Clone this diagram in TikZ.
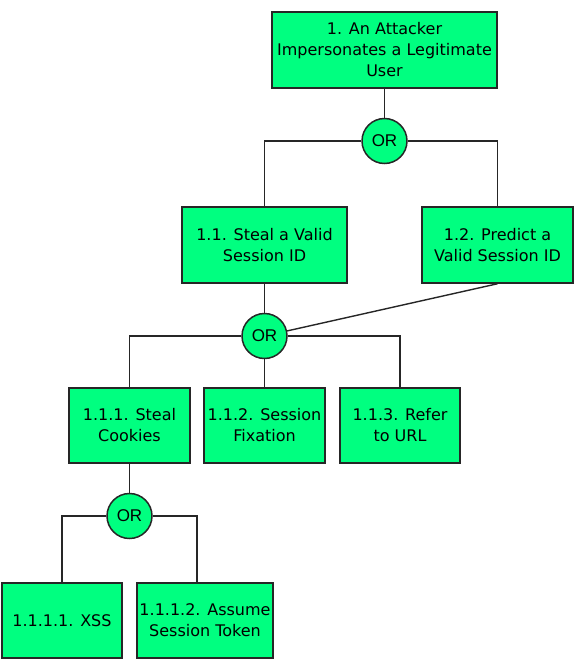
\documentclass[tikz,border=0pt]{standalone}
\usepackage{fontspec}
\setmainfont{DejaVu Sans}
\newfontfamily\orfont{Liberation Sans}
\definecolor{boxgreen}{RGB}{0,255,128}
\begin{document}
\begin{tikzpicture}[x=1pt,y=-1pt,
  goal/.style={draw=black!85,line width=1.5pt,fill=boxgreen,align=center,
    font=\fontsize{16}{21}\selectfont,inner sep=0pt},
  orgate/.style={draw=black!85,line width=1.5pt,fill=boxgreen,circle,
    minimum size=45pt,inner sep=0pt,font=\orfont\fontsize{17}{18}\selectfont},
  link/.style={draw=black!85,line width=1.4pt}]
\useasboundingbox (0,0) rectangle (575,661);
\node[goal,minimum width=225pt,minimum height=76pt] (n1) at (384.5,50) {1. An Attacker\\Impersonates a Legitimate\\User};
\node[orgate] (or1) at (384.5,141) {OR};
\node[goal,minimum width=165pt,minimum height=76pt] (n11) at (264.5,245) {1.1. Steal a Valid\\Session ID};
\node[goal,minimum width=151pt,minimum height=76pt] (n12) at (497.5,245) {1.2. Predict a\\Valid Session ID};
\node[orgate] (or2) at (264.5,336) {OR};
\node[goal,minimum width=121pt,minimum height=75pt] (n111) at (129.5,425.5) {1.1.1. Steal\\Cookies};
\node[goal,minimum width=121pt,minimum height=75pt] (n112) at (264.5,425.5) {1.1.2. Session\\Fixation};
\node[goal,minimum width=120pt,minimum height=75pt] (n113) at (400,425.5) {1.1.3. Refer\\to URL};
\node[orgate] (or3) at (129.5,516) {OR};
\node[goal,minimum width=120pt,minimum height=75pt] (n1111) at (62,620.5) {1.1.1.1. XSS};
\node[goal,minimum width=136pt,minimum height=75pt] (n1112) at (205,620.5) {1.1.1.2. Assume\\Session Token};
\coordinate (t1112) at (197,583);
\draw[link] (n1.south) -- (or1.north);
\draw[link] (or1.west) -| (n11.north);
\draw[link] (or1.east) -| (n12.north);
\draw[link] (n11.south) -- (or2.north);
\draw[link] (n12.south) -- (or2);
\draw[link] (or2.west) -| (n111.north);
\draw[link] (or2.south) -- (n112.north);
\draw[link] (or2.east) -| (n113.north);
\draw[link] (n111.south) -- (or3.north);
\draw[link] (or3.west) -| (n1111.north);
\draw[link] (or3.east) -| (t1112);
\end{tikzpicture}
\end{document}
